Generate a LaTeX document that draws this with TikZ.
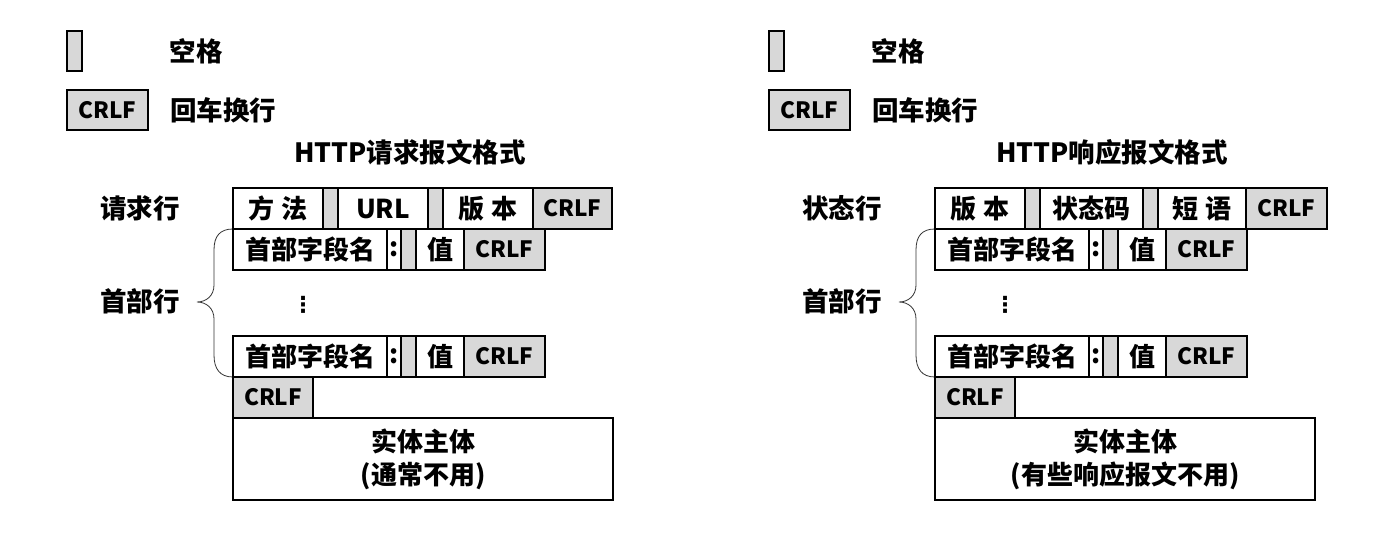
\documentclass[tikz,border=0pt]{standalone}
\usepackage{fontspec}
\setmainfont{Noto Sans CJK SC}
\newfontfamily\symfont{DejaVu Sans}
\usetikzlibrary{calc}

\definecolor{cellgray}{RGB}{216,216,216}
\newcommand{\gapsp}{\hspace{7pt}}

\tikzset{
  cell/.style={draw=black, line width=1.1pt, inner sep=0pt, outer sep=0pt,
               anchor=north west, minimum height=41,
               font=\bfseries\fontsize{26}{28}\selectfont},
  wcell/.style={cell, fill=white},
  gcell/.style={cell, fill=cellgray},
  crlf/.style={gcell, font=\bfseries\fontsize{22.5}{25}\selectfont},
  lbl/.style={inner sep=0pt, font=\bfseries\fontsize{26.5}{29}\selectfont},
  bracepath/.style={draw=black!80, line width=0.8pt},
}

% legend, header lines, blank line and body, shared by both messages
% #1: prefix, #2: second line of the body text
\newcommand{\msgcommon}[2]{%
  % legend
  \node[gcell, minimum width=15, minimum height=40] (#1sp) at (67,31) {};
  \node[lbl] (#1spl) at (196,51) {空格};
  \node[crlf, minimum width=81, minimum height=40] (#1cr) at (67,90) {CRLF};
  \node[lbl] (#1crl) at (223,110) {回车换行};
  % header lines
  \foreach \r/\yy in {a/229, b/336}{
    \node[wcell, minimum width=154] (#1\r name) at (233,\yy) {首部字段名};
    \node[wcell, minimum width=14] (#1\r colon) at (#1\r name.north east) {:};
    \node[gcell, minimum width=15] (#1\r gap) at (#1\r colon.north east) {};
    \node[wcell, minimum width=48] (#1\r val) at (#1\r gap.north east) {值};
    \node[crlf, minimum width=81] (#1\r crlf) at (#1\r val.north east) {CRLF};
  }
  \node[inner sep=0pt, font=\symfont\bfseries\fontsize{22}{24}\selectfont] (#1dots) at (303,305) {⋮};
  \node[lbl] (#1hdr) at (140,301) {首部行};
  % brace spanning the header lines
  \draw[bracepath] (#1aname.north west)
      .. controls +(-13,0) and +(0,-14) .. ++(-19,21)
      -- ++(0,35)
      .. controls +(0,11) and +(9,0) .. ++(-17,17) coordinate (#1tip)
      .. controls +(9,0) and +(0,-11) .. ++(17,17)
      -- ++(0,36)
      .. controls +(0,14) and +(-13,0) .. (#1bname.south west);
  % blank line and body
  \node[crlf, minimum width=80] (#1end) at (233,377) {CRLF};
  \node[wcell, minimum width=380, minimum height=82, align=center,
        font=\bfseries\fontsize{26}{33}\selectfont] (#1body) at (233,418)
        {实体主体\\#2};
}

\begin{document}
\begin{tikzpicture}[x=1pt, y=-1pt]
  \useasboundingbox[fill=white] (0,0) rectangle (1379,533);

  % request message
  \begin{scope}[name prefix=q-]
    \msgcommon{}{(通常不用)}
    \node[lbl] (title) at (410,152) {HTTP请求报文格式};
    \node[lbl] (rowlbl) at (140,208) {请求行};
    \node[wcell, minimum width=90] (m1) at (233,188) {方\gapsp 法};
    \node[gcell, minimum width=15] (m2) at (m1.north east) {};
    \node[wcell, minimum width=90] (m3) at (m2.north east) {URL};
    \node[gcell, minimum width=15] (m4) at (m3.north east) {};
    \node[wcell, minimum width=90] (m5) at (m4.north east) {版\gapsp 本};
    \node[crlf, minimum width=79] (m6) at (m5.north east) {CRLF};
  \end{scope}

  % response message
  \begin{scope}[xshift=702pt, name prefix=r-]
    \msgcommon{}{(有些响应报文不用)}
    \node[lbl] (title) at (410,152) {HTTP响应报文格式};
    \node[lbl] (rowlbl) at (140,208) {状态行};
    \node[wcell, minimum width=90] (s1) at (233,188) {版\gapsp 本};
    \node[gcell, minimum width=15] (s2) at (s1.north east) {};
    \node[wcell, minimum width=103] (s3) at (s2.north east) {状态码};
    \node[gcell, minimum width=15] (s4) at (s3.north east) {};
    \node[wcell, minimum width=88] (s5) at (s4.north east) {短\gapsp 语};
    \node[crlf, minimum width=81] (s6) at (s5.north east) {CRLF};
  \end{scope}
\end{tikzpicture}
\end{document}
